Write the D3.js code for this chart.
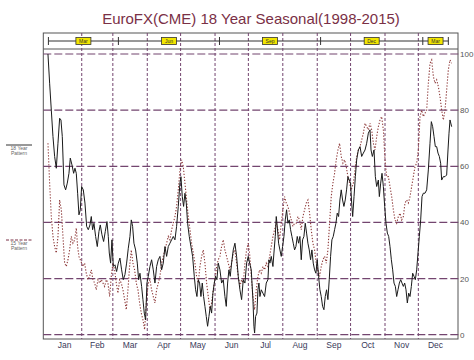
<!DOCTYPE html>
<html><head><meta charset="utf-8">
<script src="https://cdn.jsdelivr.net/npm/d3@7"></script>
<style>body{margin:0;background:#fff;}svg{display:block;font-family:"Liberation Sans",Arial,sans-serif;}</style>
</head><body><svg id="c" width="474" height="360"></svg>
<script>
const title = "EuroFX(CME) 18 Year Seasonal(1998-2015)";
const months = ["Jan","Feb","Mar","Apr","May","Jun","Jul","Aug","Sep","Oct","Nov","Dec"];
const monthStarts = [0,31,59,90,120,151,181,212,243,273,304,334,365];
const yTicks = [0,20,40,60,80,100];
const contractLabels = ["Mar","Jun","Sep","Dec","Mar"];
const contractBounds = [1,64,155,246,338,361];
const legendLabels = ["18 Year Pattern","15 Year Pattern"];

// 18 year pattern (solid)
const days18 = [0.6,2.1,3.6,5.1,6.6,8.1,9.6,11.1,12.3,13.5,15,16.5,18,19.5,20.7,22.2,23.7,24.9,26.1,27.3,28.5,29.7,30.9,32.4,33.9,35.4,36.9,38.4,39.6,40.8,42,43.5,45,46.5,47.7,49.2,50.7,52.2,53.7,54.9,55.8,57,58.2,59.4,60.9,62.4,63.9,65.4,66.9,68.4,69.9,71.4,72.9,74.4,75.6,76.8,78,79.5,81,82.2,83.4,84.9,86.1,87.3,88.5,89.7,
90.9,92.4,93.9,95.4,96.9,98.4,99.9,101.4,102.9,104.4,105.9,107.4,108.9,110.4,111.9,113.4,114.9,116.4,117.9,119.4,120.3,121.5,122.7,123.9,125.1,126.3,127.8,129.3,130.8,132.3,133.5,134.7,135.9,137.1,138.3,139.5,140.7,141.9,143.1,144.3,145.5,146.7,147.9,149.1,150.3,151.5,152.7,153.9,155.4,156.9,158.4,159.9,161.1,162.3,163.5,164.7,165.9,167.4,168.9,170.4,171.9,173.4,174.9,176.4,177.9,179.4,
180.9,182.1,183.6,185.1,186,186.6,187.5,188.7,189.6,190.5,191.4,192.6,194.1,195.6,197.1,198.6,199.5,200.4,201.6,203.1,204,205.2,206.1,207,208.2,209.4,210.6,211.8,213,214.2,215.4,216.6,217.8,219,220.2,221.4,222.6,223.8,225,226.2,227.4,228.6,229.8,231,232.2,233.4,234.6,235.8,237,238.2,239.4,240.6,241.8,243,244.2,245.4,246.6,247.8,249,250.2,251.4,252.6,253.8,255,256.2,257.4,258.6,259.8,261,262.2,263.4,264.6,265.8,267,268.2,269.4,270.6,271.8,
273,274,274.9,276.1,277.3,278.5,280,281.5,283,284.5,286,287.5,289,290.5,291.4,292.6,294.1,295.3,296.5,298,298.9,300.1,301.3,302.5,303.7,304.9,306.1,307.3,308.5,309.7,310.9,312.1,313.3,314.5,315.7,316.9,318.1,319.3,320.5,321.7,322.9,324.1,325.3,326.5,327.7,328.9,330.1,331.3,332.5,333.7,334.9,336.1,337.3,338.5,340,341.5,343,344.5,345.7,346.9,348.1,349.3,350.5,351.7,352.9,354.1,355,356.5,358,359.5,360.7,361.6,362.5,364];
const pattern18 = [100,89.6,80,70.6,63.5,59.3,68.2,77.1,76.5,70.6,53.4,51.6,54,57.5,62.9,60.5,57.5,59.3,57.5,50.4,42.7,44.5,52.8,51.6,46.9,38.6,37.4,39.1,42.1,37.4,39.7,35,31.4,36.8,39.1,35.6,33.2,36.8,40.3,35,29.1,25.5,33.8,24.3,24.9,22.5,25.5,27.3,23.1,19.6,21.4,25.5,30.8,35,40.9,38.6,32.6,30.2,25.5,19.6,21.9,17.2,12.5,7.7,5.3,18.4,
20.8,24.3,26.7,23.1,18.4,24.3,26.7,27.9,23.1,25.5,31.4,27.9,31.4,32.6,33.8,35,33.8,38.6,45.7,54,56.3,49.2,45.7,50.4,46.9,39.7,35,31.4,27.9,20.8,16,13.6,19.6,18.4,13.6,18.4,13.6,10.1,6.5,3,6.5,10.1,7.7,14.8,18.4,20.8,19.6,25.5,23.1,18.4,19.6,13.6,10.1,18.4,23.1,20.8,25.5,30.2,32.6,27.9,20.8,16,12.5,19.6,18.4,25.5,
27.9,25.5,23.1,12.5,3,0.6,6.5,7.7,16,18.4,13.6,16,14.8,13.6,18.4,19.6,26.7,25.5,27.9,24.3,29.1,35,42.1,38.6,32.6,30.2,27.9,31.4,35,40.9,44.5,39.7,40.9,37.4,35,32.6,30.2,31.4,35,32.6,35,26.7,33.8,35,39.7,36.2,32.6,30.2,26.7,30.2,25.5,23.1,21.9,26.7,20.8,16,13.6,10.1,8.9,13.6,16,12.5,19.6,27.9,33.8,35,37.4,39.7,43.3,42.1,48,51.6,48,45.7,48,51.6,56.3,55.1,
54,46.9,42.1,49.2,56.3,62.3,65.8,67,63.5,64.7,65.8,68.2,71.8,73,65.8,63.5,65.8,56.3,52.8,55.1,49.2,54,57.5,52.8,45.7,39.7,36.2,35,31.4,26.7,23.1,18.4,17.2,13.6,16,18.4,19.6,18.4,17.2,18.4,16,11.3,14.8,13.6,17.2,21.9,20.8,19.6,23.1,29.1,35,40.9,49.2,50.4,50.4,51.6,58.7,68.2,75.9,74.1,70.6,67,67,64.7,63.5,61.1,55.1,56.3,56.3,56.9,65.8,71.8,76.5,74.1];

// 15 year pattern (dotted)
const days15 = [0.6,2.1,3.6,5.1,6.6,8.1,9.6,11.1,12.6,14.1,15.6,17.1,18.6,20.1,21.6,23.1,24.6,26.1,27.3,28.5,29.7,30.9,32.1,33.6,35.1,36.6,38.1,39.6,41.1,42.6,44.1,45.6,47.1,48.6,50.1,51.6,53.1,54.6,56.1,57.6,59.1,60.6,62.1,63.6,65.1,66.6,68.1,69.6,71.1,72.6,74.1,75.6,77.1,78.6,80.1,81.6,83.1,84.6,86.1,87.6,89.1,
90.9,92.4,93.9,95.4,96.9,98.4,99.9,101.4,102.9,104.4,105.9,107.4,108.9,110.4,111.9,113.4,114.9,116.4,117.9,119.4,120.9,122.4,123.9,125.4,126.9,128.4,129.9,131.4,132.9,134.4,135.9,137.4,138.9,140.4,141.9,143.4,144.9,146.4,147.9,149.4,150.9,152.4,153.9,155.4,156.9,158.4,159.9,161.4,162.9,164.4,165.9,167.4,168.9,170.4,171.9,173.4,174.9,176.4,177.9,179.4,
180.9,182.1,183.6,185.1,186.6,188.1,189.6,191.1,192.6,194.1,195.6,197.1,198.6,200.1,201.6,203.1,204.6,206.1,207.6,209.1,210.6,212.1,213.6,215.1,216.6,218.1,219.6,221.1,222.6,224.1,225.6,227.1,228.6,230.1,231.6,233.1,234.6,236.1,237.6,239.1,240.6,242.1,243.6,245.1,246.6,248.1,249.6,251.1,252.6,254.1,255.6,257.1,258.6,260.1,261.6,263.1,264.6,266.1,267.6,269.1,270.6,272.1,
273.6,275.5,277,278.5,280,281.5,283,284.5,286,287.5,289,290.5,292,293.5,295,296.5,298,299.5,301,302.5,304,305.5,307,308.5,310,311.5,313,314.5,316,317.5,319,320.5,322,323.5,325,326.5,328,329.5,331,332.5,334,335.5,337,338.5,340,341.5,343,344.5,346,347.5,349,350.5,352,353.5,355,356.5,358,359.5,361,362.5,364];
const pattern15 = [68.2,54,42.1,35,31.4,29.1,35,48,44.5,35,25.5,24.3,26.7,30.2,35,32.6,33.8,38,31.4,27.9,26.7,25.5,24.3,25.5,21.9,19.6,20.8,23.1,19.6,18.4,16,19.6,18.4,19.6,18.4,17.2,19.6,18.4,13.6,20.8,25.5,23.1,18.4,14.8,19.6,18.4,16,12.5,8.9,16,24.3,30.2,25.5,23.1,18.4,16,11.3,7.7,5.3,1.8,11.3,
18.4,19.6,16,13.6,11.3,16,18.4,20.8,25.5,27.9,30.2,32.6,35,33.8,37.4,39.7,42.1,45.7,51.6,58.7,62.3,59.9,54,48,42.1,37.4,32.6,29.1,25.5,20.8,18.4,24.3,27.9,30.2,25.5,18.4,13.6,8.9,11.3,16,19.6,24.3,26.7,27.9,31.4,33.8,30.2,27.9,25.5,23.1,25.5,29.1,30.2,25.5,20.8,17.2,19.6,18.4,25.5,30.2,
32.6,29.1,20.8,13.6,8.9,16,20.8,23.1,21.9,24.3,23.1,25.5,24.3,27.9,31.4,35,37.4,39.7,37.4,33.8,39.7,44.5,49.2,46.9,45.7,43.3,40.9,38.6,39.7,39.7,42.1,40.9,37.4,42.1,44.5,46.9,48,43.3,37.4,32.6,30.2,25.5,23.1,20.8,24.3,26.7,27.9,25.5,30.2,39.7,49.2,54,57.5,62.3,65.8,68.2,63.5,61.1,62.3,59.9,56.3,54,
51.6,54,58.7,63.5,65.8,67,69.4,71.8,75.3,74.1,73,75.3,73,68.2,65.8,70.6,74.1,76.5,77.7,73,62.3,56.3,56.3,52.8,49.2,44.5,40.9,39.7,42.1,43.3,40.9,42.1,46.9,48,46.9,49.2,52.8,56.3,59.9,61.1,65.8,77.7,80,77.7,78.9,80,89.6,96.7,97.9,92,89.6,90.8,88.4,84.8,80,76.5,80,87.2,94.3,97.9,96.7];

const svg = d3.select("#c");
const L = 43.3, R = 458, T = 33, B = 339;
const x = d3.scaleLinear().domain([-3.6, 369.7]).range([L, R]);
const y = d3.scaleLinear().domain([0, 100]).range([334.7, 54]);
const gridCol = "#73456f";

// title
svg.append("text").attr("x", 251).attr("y", 24).attr("text-anchor", "middle")
  .attr("font-size", 15).attr("fill", "#7a3046").text(title);

// frame
svg.append("rect").attr("x", L).attr("y", T).attr("width", R - L).attr("height", B - T)
  .attr("fill", "none").attr("stroke", "#555").attr("stroke-width", 1);
svg.append("line").attr("x1", L).attr("x2", R).attr("y1", 49).attr("y2", 49).attr("stroke", "#555");

// horizontal grid
svg.append("g").selectAll("line").data(yTicks).join("line")
  .attr("x1", L).attr("x2", R + 3).attr("y1", d => y(d)).attr("y2", d => y(d))
  .attr("stroke", gridCol).attr("stroke-width", 1.2).attr("stroke-dasharray", "8,3");

// vertical month grid
svg.append("g").selectAll("line").data(monthStarts.slice(1, 12)).join("line")
  .attr("x1", d => x(d)).attr("x2", d => x(d)).attr("y1", T).attr("y2", B)
  .attr("stroke", gridCol).attr("stroke-width", 1).attr("stroke-dasharray", "3,2");

// right axis labels
svg.append("g").selectAll("text").data(yTicks).join("text")
  .attr("x", R + 2).attr("y", d => y(d) + 3).attr("font-size", 8).attr("fill", "#555")
  .text(d => d);

// month labels
svg.append("g").selectAll("text").data(months).join("text")
  .attr("x", (d, i) => x((monthStarts[i] + monthStarts[i + 1]) / 2)).attr("y", 348)
  .attr("text-anchor", "middle").attr("font-size", 8.5).attr("fill", "#3a3a5a").text(d => d);

// contract strip
const stripY = 41;
svg.append("line").attr("x1", x(contractBounds[0])).attr("x2", x(contractBounds[5]))
  .attr("y1", stripY).attr("y2", stripY).attr("stroke", "#333");
svg.append("g").selectAll("line").data(contractBounds).join("line")
  .attr("x1", d => x(d)).attr("x2", d => x(d)).attr("y1", stripY - 4).attr("y2", stripY + 4)
  .attr("stroke", "#333");
const cg = svg.append("g").selectAll("g").data(contractLabels).join("g")
  .attr("transform", (d, i) => `translate(${x((contractBounds[i] + contractBounds[i + 1]) / 2)},${stripY})`);
cg.append("rect").attr("x", -7.5).attr("y", -3.5).attr("width", 15).attr("height", 7)
  .attr("fill", "#f2e600").attr("stroke", "#333").attr("stroke-width", 0.8);
cg.append("text").attr("y", 2).attr("text-anchor", "middle").attr("font-size", 5).attr("fill", "#333").text(d => d);

// lines
const line = d3.line().x(d => x(d[0])).y(d => y(d[1]));
svg.append("path").datum(days15.map((d, i) => [d, pattern15[i]])).attr("d", line)
  .attr("fill", "none").attr("stroke", "#8e3a3a").attr("stroke-width", 1.1).attr("stroke-dasharray", "1.3,1.7");
svg.append("path").datum(days18.map((d, i) => [d, pattern18[i]])).attr("d", line)
  .attr("fill", "none").attr("stroke", "#1a1a1a").attr("stroke-width", 1);

// legend
const leg = [{ y: 145, dash: null, col: "#333" }, { y: 240, dash: "3,1.5", col: "#7a3046" }];
leg.forEach((l, i) => {
  svg.append("line").attr("x1", 6).attr("x2", 32).attr("y1", l.y).attr("y2", l.y)
    .attr("stroke", l.col).attr("stroke-width", 1).attr("stroke-dasharray", l.dash);
  const parts = legendLabels[i].split(" ");
  svg.append("text").attr("x", 19).attr("y", l.y + 5).attr("text-anchor", "middle")
    .attr("font-size", 5).attr("fill", "#666").text(parts[0] + " " + parts[1]);
  svg.append("text").attr("x", 19).attr("y", l.y + 10).attr("text-anchor", "middle")
    .attr("font-size", 5).attr("fill", "#666").text(parts[2]);
});
</script></body></html>
